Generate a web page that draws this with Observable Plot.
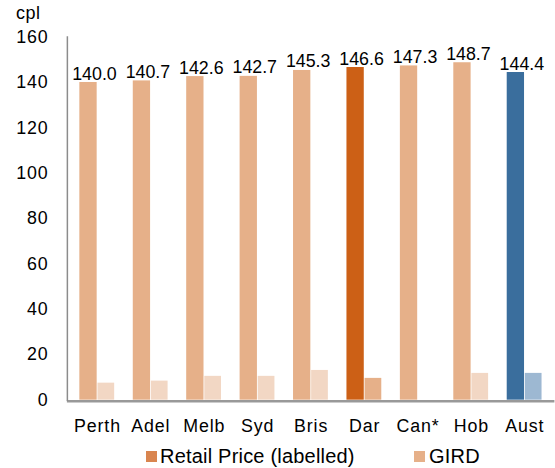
<!DOCTYPE html>
<html>
<head>
<meta charset="utf-8">
<script src="https://cdn.jsdelivr.net/npm/d3@7"></script>
<script src="https://cdn.jsdelivr.net/npm/@observablehq/plot@0.6"></script>
<style>
  html, body { margin: 0; padding: 0; background: #fff; }
  #wrap { position: relative; width: 555px; height: 468px; overflow: hidden; font-family: "Liberation Sans", Arial, sans-serif; }
  #title { position: absolute; left: 121px; top: -23px; font-size: 22px; line-height: 22px; color: #d9661c; white-space: nowrap; }
  #ylab { position: absolute; left: 16px; top: 4px; font-size: 18px; line-height: 18px; color: #000; letter-spacing: 0.5px; }
  #chart { position: absolute; left: 0; top: 0; }
  #chart g[aria-label="x-axis tick label"] text,
  #chart g[aria-label="y-axis tick label"] text { letter-spacing: 0.9px; }
  #legend { position: absolute; left: 0; top: 446px; width: 555px; font-size: 20px; line-height: 20px; color: #000; }
  .sw { position: absolute; width: 11px; height: 11px; top: 5px; }
  .lt { position: absolute; top: 0; white-space: nowrap; letter-spacing: 0.2px; }
</style>
</head>
<body>
<div id="wrap">
  <div id="title">(monthly average)</div>
  <div id="ylab">cpl</div>
  <div id="chart"></div>
  <div id="legend">
    <div class="sw" style="left:146px; background:#d9854f"></div>
    <div class="lt" style="left:160px">Retail Price (labelled)</div>
    <div class="sw" style="left:414px; background:#e6b089"></div>
    <div class="lt" style="left:429px">GIRD</div>
  </div>
</div>
<script>
const cities = ["Perth", "Adel", "Melb", "Syd", "Bris", "Dar", "Can*", "Hob", "Aust"];
const retail = [140.0, 140.7, 142.6, 142.7, 145.3, 146.6, 147.3, 148.7, 144.4];
const gird = [7.5, 8.4, 10.5, 10.5, 13.1, 9.6, 0, 11.8, 11.8];
const yTicks = [0, 20, 40, 60, 80, 100, 120, 140, 160];

const baseColors = { Retail: "#e6b089", GIRD: "#f2d7c4" };
const specialColors = {
  "Dar": { Retail: "#cc6016", GIRD: "#e6b089" },
  "Aust": { Retail: "#3a6e9d", GIRD: "#9db8d2" }
};
const fillFor = d => (specialColors[d.city] || baseColors)[d.series];

const retailRows = cities.map((c, i) => ({ city: c, series: "Retail", value: retail[i] }));
const girdRows = cities.map((c, i) => ({ city: c, series: "GIRD", value: gird[i] }));

const chart = Plot.plot({
  width: 561,
  height: 440,
  marginLeft: 67.6,
  marginRight: 0.6,
  marginTop: 37,
  marginBottom: 36,
  style: { fontFamily: "Liberation Sans, Arial, sans-serif", fontSize: "18px", color: "#000", background: "transparent", overflow: "visible" },
  x: { type: "band", domain: cities, padding: 0, label: null },
  y: { domain: [0, 160], label: null },
  color: { type: "identity" },
  marks: [
    Plot.barY(retailRows, { x: "city", y: "value", fill: fillFor, insetLeft: 9.2, insetRight: 27.3 }),
    Plot.barY(girdRows, { x: "city", y: "value", fill: fillFor, insetLeft: 27.5, insetRight: 9.6 }),
    Plot.text(retailRows, { x: "city", y: "value", text: d => d.value.toFixed(1), dx: -3, dy: -3, lineAnchor: "bottom", fontSize: 18, fill: "#000" }),
    Plot.ruleY([0], { stroke: "#999", strokeWidth: 2.5, dy: 1.2 }),
    Plot.frame({ anchor: "left", stroke: "#8c8c8c", strokeWidth: 1.5 }),
    Plot.axisX({ tickSize: 0, tickPadding: 19, fontSize: 18, label: null }),
    Plot.axisY({ ticks: yTicks, tickSize: 0, tickPadding: 19, fontSize: 18, label: null })
  ]
});
document.getElementById("chart").appendChild(chart);
</script>
</body>
</html>
